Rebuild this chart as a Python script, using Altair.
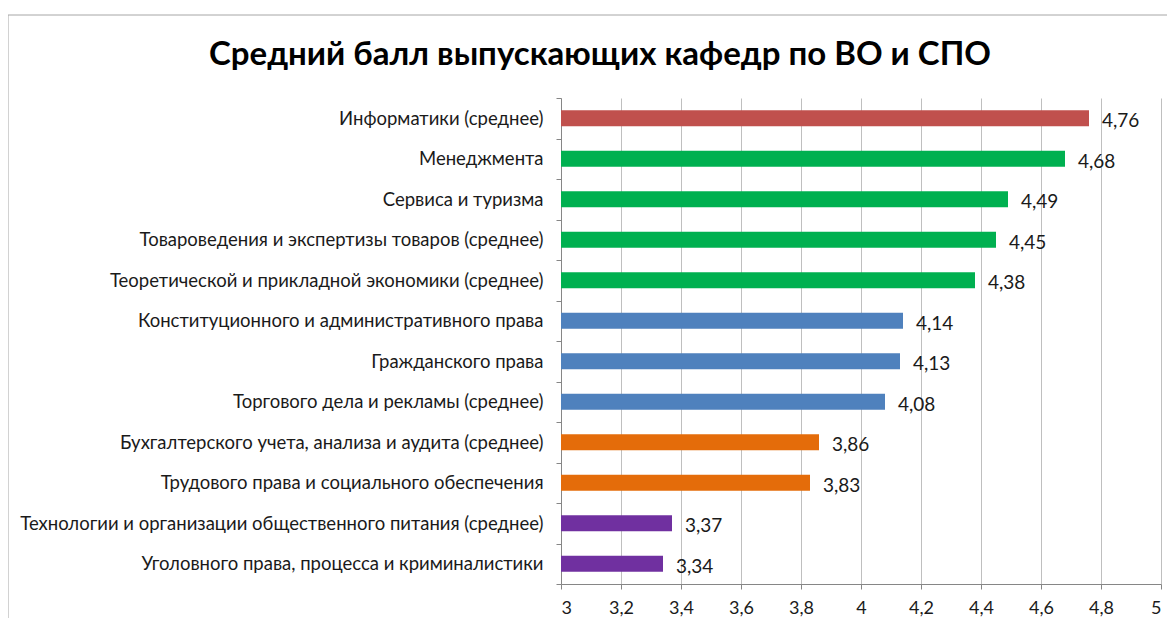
import altair as alt
import pandas as pd

categories = [
    "Информатики (среднее)",
    "Менеджмента",
    "Сервиса и туризма",
    "Товароведения и экспертизы товаров (среднее)",
    "Теоретической и прикладной экономики (среднее)",
    "Конституционного и административного права",
    "Гражданского права",
    "Торгового дела и рекламы (среднее)",
    "Бухгалтерского учета, анализа и аудита (среднее)",
    "Трудового права и социального обеспечения",
    "Технологии и организации общественного питания (среднее)",
    "Уголовного права, процесса и криминалистики",
]
values = [4.76, 4.68, 4.49, 4.45, 4.38, 4.14, 4.13, 4.08, 3.86, 3.83, 3.37, 3.34]
bar_colors = ["#C0504D", "#00B050", "#00B050", "#00B050", "#00B050",
              "#4F81BD", "#4F81BD", "#4F81BD", "#E46C0A", "#E46C0A",
              "#7030A0", "#7030A0"]
x_ticks = [3, 3.2, 3.4, 3.6, 3.8, 4, 4.2, 4.4, 4.6, 4.8, 5]
x_min = 3
title_text = "Средний балл выпускающих кафедр по ВО и СПО"

df = pd.DataFrame({
    "cat": categories,
    "val": values,
    "base": [x_min] * len(values),
    "color": bar_colors,
    "label": [f"{v:.2f}".replace(".", ",") for v in values],
})

FONT = "Lato"

y_enc = alt.Y(
    "cat:N", sort=categories, title=None,
    scale=alt.Scale(paddingInner=0, paddingOuter=0),
    axis=alt.Axis(
        labelFont=FONT, labelFontSize=18.5, labelColor="#1a1a1a",
        labelPadding=13, tickSize=5, tickBand="extent",
        tickColor="#868686", domainColor="#868686", labelLimit=600,
    ),
)
x_enc = alt.X(
    "val:Q", title=None,
    scale=alt.Scale(domain=[3, 5], nice=False, zero=False),
    axis=alt.Axis(
        values=x_ticks, format="~g",
        labelExpr="replace(datum.label, '.', ',')",
        labelFont=FONT, labelFontSize=18, labelColor="#1a1a1a",
        labelPadding=10, tickSize=5, tickColor="#868686",
        domainColor="#868686", grid=True, gridColor="#BFBFBF",
    ),
)

base = alt.Chart(df)

bars = base.mark_bar(size=16).encode(
    y=y_enc, x=x_enc, x2="base:Q", color=alt.Color("color:N", scale=None)
)
texts = base.mark_text(align="left", baseline="middle", dx=13, dy=3,
                       font=FONT, fontSize=19, color="#1a1a1a").encode(
    y=alt.Y("cat:N", sort=categories), x="val:Q", text="label:N"
)
frame = alt.Chart(alt.Data(values=[{"a": 1}])).mark_rect(
    fillOpacity=0, stroke="#A6A6A6", strokeWidth=1
).encode(
    x=alt.value(-553), x2=alt.value(640),
    y=alt.value(-83), y2=alt.value(560),
)

chart = alt.layer(frame, bars, texts).properties(
    width=600, height=486,
    autosize=alt.AutoSizeParams(type="none"),
    padding={"left": 553, "top": 90, "right": 6, "bottom": 34},
    title=alt.TitleParams(
        title_text, font=FONT, fontSize=33, fontWeight="bold",
        color="#000000", anchor="middle", frame="group",
        baseline="alphabetic", offset=-83, dx=-261,
    ),
).configure_view(stroke=None)

chart.save("out.html", embed_options={"renderer": "svg", "actions": False})
